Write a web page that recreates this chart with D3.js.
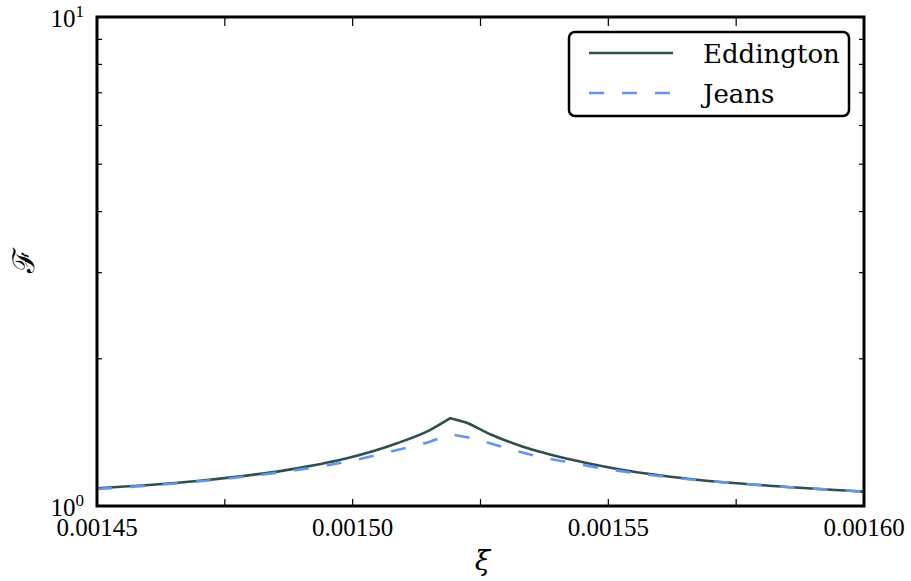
<!DOCTYPE html>
<html>
<head>
<meta charset="utf-8">
<script src="https://cdn.jsdelivr.net/npm/d3@7"></script>
<style>
  body { margin: 0; background: #fff; }
  .tick-label { font-family: "Liberation Serif", serif; font-size: 25px; fill: #000; }
</style>
</head>
<body>
<svg width="911" height="581"></svg>
<script>
// values
var xiEddington = [0.001450, 0.0014696, 0.0014891, 0.0014989, 0.0015087, 0.0015151, 0.0015191, 0.0015220, 0.0015269, 0.0015333, 0.0015431, 0.0015529, 0.0015660, 0.0015822, 0.001600];
var fEddington  = [1.087, 1.125, 1.194, 1.252, 1.344, 1.430, 1.512, 1.483, 1.402, 1.322, 1.242, 1.185, 1.136, 1.099, 1.070];
var xiJeans = [0.001450, 0.0014696, 0.0014891, 0.0014989, 0.0015087, 0.0015151, 0.0015191, 0.0015235, 0.0015302, 0.0015366, 0.0015431, 0.0015497, 0.0015626, 0.0015822, 0.001600];
var fJeans  = [1.083, 1.122, 1.185, 1.232, 1.302, 1.354, 1.402, 1.375, 1.312, 1.261, 1.223, 1.190, 1.143, 1.099, 1.070];
var xTicks = [0.001450, 0.001475, 0.001500, 0.001525, 0.001550, 0.001575, 0.001600];
var xTickLabels = ["0.00145", "", "0.00150", "", "0.00155", "", "0.00160"];
var seriesNames = ["Eddington", "Jeans"];

var svg = d3.select("svg"),
    margin = {top: 17, right: 47, bottom: 75, left: 97},
    width = +svg.attr("width") - margin.left - margin.right,
    height = +svg.attr("height") - margin.top - margin.bottom,
    g = svg.append("g").attr("transform", "translate(" + margin.left + "," + margin.top + ")");

var x = d3.scaleLinear().domain([0.00145, 0.00160]).range([0, width]);
var y = d3.scaleLog().domain([1, 10]).range([height, 0]);

var line = d3.line()
    .curve(d3.curveMonotoneX)
    .x(function(d) { return x(d[0]); })
    .y(function(d) { return y(d[1]); });

// smooth on each side, sharp at the peak
function peakPath(data) {
  var k = d3.maxIndex(data, function(d) { return d[1]; });
  var left = line(data.slice(0, k + 1)),
      right = line(data.slice(k));
  return left + right.replace(/^M/, "L");
}

var eddData = d3.zip(xiEddington, fEddington);
var jeansData = d3.zip(xiJeans, fJeans);

svg.append("defs").append("clipPath").attr("id", "plotclip")
  .append("rect").attr("width", width).attr("height", height);

var plot = g.append("g").attr("clip-path", "url(#plotclip)");

plot.append("path")
    .attr("d", peakPath(eddData))
    .attr("fill", "none")
    .attr("stroke", "#2f4f4f")
    .attr("stroke-width", 2.6);

plot.append("path")
    .attr("d", peakPath(jeansData))
    .attr("fill", "none")
    .attr("stroke", "#6495ed")
    .attr("stroke-width", 2.6)
    .attr("stroke-dasharray", "15,18");

// minor y ticks (log), inside on both sides
var minorY = d3.range(2, 10);
g.append("g").selectAll("line")
    .data(minorY).enter().append("line")
      .attr("x1", 0).attr("x2", 5)
      .attr("y1", function(d) { return y(d); })
      .attr("y2", function(d) { return y(d); })
      .attr("stroke", "#000").attr("stroke-width", 1.2);
g.append("g").selectAll("line")
    .data(minorY).enter().append("line")
      .attr("x1", width).attr("x2", width - 5)
      .attr("y1", function(d) { return y(d); })
      .attr("y2", function(d) { return y(d); })
      .attr("stroke", "#000").attr("stroke-width", 1.2);

// x ticks top and bottom
g.append("g").selectAll("line")
    .data(xTicks).enter().append("line")
      .attr("x1", function(d) { return x(d); })
      .attr("x2", function(d) { return x(d); })
      .attr("y1", height).attr("y2", height - 7)
      .attr("stroke", "#000").attr("stroke-width", 1.2);
g.append("g").selectAll("line")
    .data(xTicks).enter().append("line")
      .attr("x1", function(d) { return x(d); })
      .attr("x2", function(d) { return x(d); })
      .attr("y1", 0).attr("y2", 9)
      .attr("stroke", "#000").attr("stroke-width", 1.2);

// frame
g.append("rect")
    .attr("width", width).attr("height", height)
    .attr("fill", "none").attr("stroke", "#000").attr("stroke-width", 3);

// x tick labels
g.append("g").selectAll("text")
    .data(xTicks).enter().append("text")
      .attr("class", "tick-label")
      .attr("x", function(d) { return x(d); })
      .attr("y", height + 30)
      .attr("text-anchor", "middle")
      .text(function(d, i) { return xTickLabels[i]; });

// y tick labels 10^0 and 10^1
var yLab = g.append("g").selectAll("text")
    .data([1, 10]).enter().append("text")
      .attr("class", "tick-label")
      .attr("x", -13)
      .attr("y", function(d) { return y(d) + 10; })
      .attr("text-anchor", "end");
yLab.append("tspan").text("10");
yLab.append("tspan")
    .attr("dy", -10)
    .attr("font-size", 17)
    .text(function(d) { return Math.round(Math.log10(d)); });

// axis labels
svg.append("text")
    .attr("x", margin.left + width / 2 + 2)
    .attr("y", 570)
    .attr("text-anchor", "middle")
    .attr("font-family", "DejaVu Serif, serif")
    .attr("font-style", "italic")
    .attr("font-size", 28)
    .text("ξ");

svg.append("text")
    .attr("transform", "translate(34,260) rotate(-90)")
    .attr("text-anchor", "middle")
    .attr("font-family", "DejaVu Serif, serif")
    .attr("font-size", 30)
    .text("ℱ");

// legend
var legend = svg.append("g").attr("transform", "translate(569,32)");
legend.append("rect")
    .attr("width", 280).attr("height", 84)
    .attr("rx", 6).attr("ry", 6)
    .attr("fill", "#fff").attr("stroke", "#000").attr("stroke-width", 2.5);

var items = legend.selectAll("g.item")
    .data(seriesNames).enter().append("g")
      .attr("transform", function(d, i) { return "translate(0," + (21 + i * 40) + ")"; });

items.append("line")
    .attr("x1", 20).attr("x2", 104)
    .attr("stroke", function(d, i) { return i == 0 ? "#2f4f4f" : "#6495ed"; })
    .attr("stroke-width", 2.6)
    .attr("stroke-dasharray", function(d, i) { return i == 0 ? null : "15,18"; });

items.append("text")
    .attr("x", 134)
    .attr("y", 10)
    .attr("font-family", "DejaVu Serif, serif")
    .attr("font-size", 26)
    .text(function(d) { return d; });
</script>
</body>
</html>
